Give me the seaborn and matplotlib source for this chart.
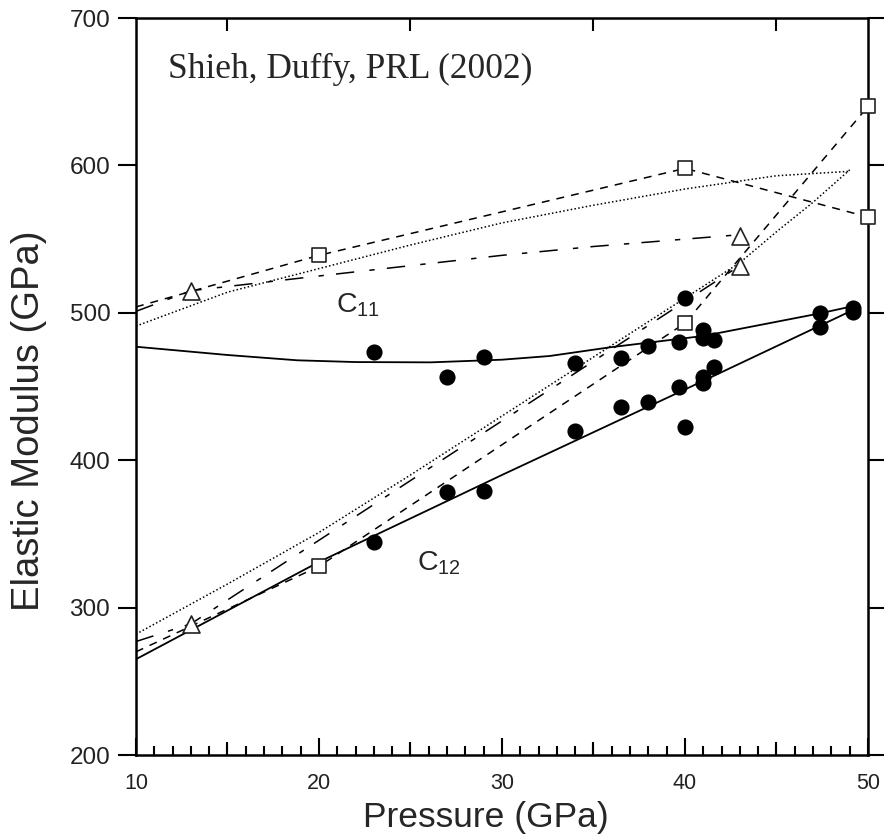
import numpy as np
import pandas as pd
import matplotlib
matplotlib.use("Agg")
import matplotlib.pyplot as plt
import seaborn as sns

# ---------------- data ----------------
# experimental points (filled circles)
exp_p = [23.0, 23.0, 27.0, 27.0, 29.0, 29.0, 34.0, 34.0, 36.5, 36.5, 38.0, 38.0,
         39.7, 39.7, 40.0, 40.0, 41.0, 41.0, 41.0, 41.0, 41.6, 41.6, 47.4, 47.4, 49.2, 49.2]
exp_c = [473.6, 344.7, 456.4, 378.6, 470.0, 379.1, 466.1, 419.8, 469.5, 436.3, 477.7, 439.7,
         480.0, 449.9, 509.8, 422.7, 488.3, 482.7, 456.6, 452.6, 481.6, 463.4, 500.1, 490.6, 503.3, 500.5]

# model with squares (dashed)
sq_line_p = [10, 20, 40, 50]
sq_c11 = [504, 539, 598, 565]
sq_c12 = [270, 328, 493, 640]
sq_mark_p = [20, 40, 50]
sq_mark_c11 = [539, 598, 565]
sq_mark_c12 = [328, 493, 640]

# model with triangles (dash-dot)
tri_c11_p = [10, 13, 20, 25, 30, 35, 40, 43]
tri_c11 = [501, 515, 525, 532, 539, 545, 550, 553]
tri_c12_p = [10, 13, 43]
tri_c12 = [277, 289, 532]
tri_mark_p = [13, 43]
tri_mark_c11 = [515, 552]
tri_mark_c12 = [289, 532]

# model without markers (dotted)
dot_c11_p = [10, 15, 20, 25, 30, 35, 40, 45, 49]
dot_c11 = [491, 514, 530, 546, 561, 573, 584, 593, 596]
dot_c12_p = [10, 15, 20, 25, 30, 35, 40, 43, 45, 47, 49]
dot_c12 = [282, 316, 351, 390, 430, 470, 510, 534, 555, 575, 597]

# fits to experiment (solid)
fit_c11_p = [10, 15, 18.8, 22, 26.1, 30, 32.6, 35.9, 41, 47.4, 49.2]
fit_c11 = [477, 471.4, 467.8, 466.6, 466.4, 468.2, 470.7, 476.6, 484.3, 499.7, 504.6]
fit_c12_p = [10, 20, 30, 40, 49.2]
fit_c12 = [265, 331, 390, 448, 502]

x_major = [10, 20, 30, 40, 50]
x_mid = [15, 25, 35, 45]
y_major = [200, 300, 400, 500, 600, 700]

# ---------------- style ----------------
sns.set_style("ticks")
plt.rcParams["font.family"] = ["Liberation Sans", "DejaVu Sans"]
plt.rcParams["mathtext.default"] = "regular"

fig = plt.figure(figsize=(8.84, 8.38), dpi=100)
ax = fig.add_axes([0.1538, 0.0990, 0.8281, 0.8795])

LW = 1.1
styles = {
    "dashed": (0, (5.2, 4.6)),
    "dashdot": (0, (12, 10, 3.5, 8)),
    "dotted": (0, (1, 1.5)),
    "solid": "-",
}


def draw_line(px, py, kind, lw=LW):
    df = pd.DataFrame({"P": px, "C": py})
    sns.lineplot(data=df, x="P", y="C", ax=ax, color="black", lw=lw,
                 linestyle=styles[kind], sort=False, estimator=None, legend=False)


draw_line(fit_c11_p, fit_c11, "solid", 1.3)
draw_line(fit_c12_p, fit_c12, "solid", 1.3)
draw_line(sq_line_p, sq_c11, "dashed")
draw_line(sq_line_p, sq_c12, "dashed")
draw_line(tri_c11_p, tri_c11, "dashdot")
draw_line(tri_c12_p, tri_c12, "dashdot")
draw_line(dot_c11_p, dot_c11, "dotted")
draw_line(dot_c12_p, dot_c12, "dotted")

sns.scatterplot(x=sq_mark_p + sq_mark_p, y=sq_mark_c11 + sq_mark_c12, ax=ax, marker="s",
                s=115, facecolor="white", edgecolor="#222222", linewidth=1.2,
                clip_on=False, zorder=5, legend=False)
sns.scatterplot(x=tri_mark_p + tri_mark_p, y=tri_mark_c11 + tri_mark_c12, ax=ax, marker="^",
                s=150, facecolor="white", edgecolor="#222222", linewidth=1.2,
                clip_on=False, zorder=5, legend=False)
sns.scatterplot(x=exp_p, y=exp_c, ax=ax, marker="o", s=135, color="black",
                edgecolor="black", linewidth=0, zorder=6, legend=False)

# ---------------- axes ----------------
ax.set_xlim(10, 50)
ax.set_ylim(200, 700)
ax.set_xticks(x_major)
ax.set_xticks(np.arange(10, 51, 1), minor=True)
ax.set_yticks(y_major)
ax.tick_params(axis="x", which="major", direction="in", length=12.2, width=1.5,
               top=True, bottom=True, labelsize=15.5, pad=13, color="black",
               labelcolor="#222222")
ax.tick_params(axis="x", which="minor", direction="in", length=6.5, width=1.5,
               top=True, bottom=True, color="black")
ax.tick_params(axis="y", which="major", direction="out", length=13, width=1.5,
               left=True, right=True, labelsize=17.5, pad=5.5, color="black",
               labelcolor="#222222")
ax.tick_params(axis="y", which="minor", left=False, right=False)
for sp in ax.spines.values():
    sp.set_visible(True)
    sp.set_linewidth(1.8)
    sp.set_color("black")

ax2 = ax.twiny()
ax2.set_xlim(10, 50)
ax2.set_xticks(x_mid)
ax2.tick_params(axis="x", which="major", direction="in", length=9.4, width=1.5,
                top=True, bottom=True, labeltop=False, labelbottom=False, color="black")
for sp in ax2.spines.values():
    sp.set_visible(False)

ax.set_xlabel("Pressure (GPa)", fontsize=25.5, labelpad=5)
ax.xaxis.label.set_x(0.478)
ax.set_ylabel("Elastic Modulus (GPa)", fontsize=27.5, labelpad=16)
ax.yaxis.label.set_y(0.453)

ax.text(11.75, 659.3, "Shieh, Duffy, PRL (2002)", fontsize=25.5,
        family=["Liberation Serif", "DejaVu Serif"], ha="left", va="baseline")
ax.text(20.93, 500.5, r"$\mathregular{C_{11}}$", fontsize=20.5, ha="left", va="baseline")
ax.text(25.36, 325.5, r"$\mathregular{C_{12}}$", fontsize=20.5, ha="left", va="baseline")

fig.savefig("out.png", dpi=100)
